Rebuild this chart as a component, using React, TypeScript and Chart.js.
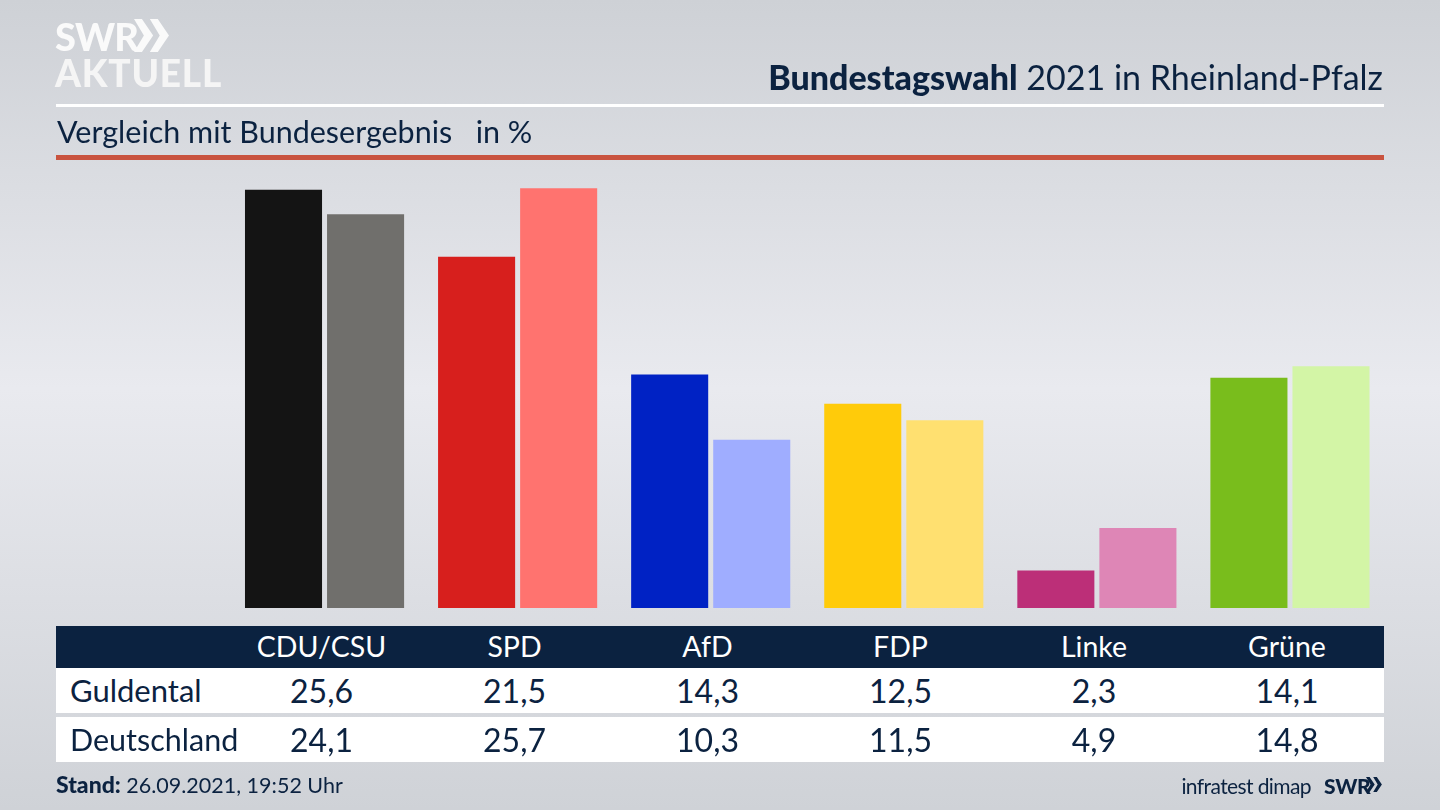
import React, { useEffect, useRef } from "react"
import Chart from "chart.js/auto"

const parties = ["CDU/CSU", "SPD", "AfD", "FDP", "Linke", "Grüne"]
const guldental = [25.6, 21.5, 14.3, 12.5, 2.3, 14.1]
const deutschland = [24.1, 25.7, 10.3, 11.5, 4.9, 14.8]
const strongColors = ["#141414", "#d71f1d", "#0022c4", "#ffcb0a", "#bc2f78", "#79bd1c"]
const paleColors = ["#706f6c", "#ff736f", "#9fadff", "#ffe070", "#de86b6", "#d3f5a6"]

const NAVY = "#0b2240"
const FONT = "Lato, sans-serif"
const columnCenters = [321.5, 514.5, 707.5, 900.5, 1094, 1287]

function fmt(v: number) {
  return v.toFixed(1).replace(".", ",")
}

function Text(props: {
  x: number
  y: number
  size: number
  color?: string
  weight?: number
  align?: "left" | "center" | "right"
  spacing?: number
  children: React.ReactNode
}) {
  const { x, y, size, color = NAVY, weight = 400, align = "left", spacing = 0 } = props
  const tx = align === "center" ? "-50%" : align === "right" ? "-100%" : "0"
  return (
    <div
      style={{
        position: "absolute",
        left: x,
        top: y,
        transform: `translate(${tx}, -50%)`,
        fontFamily: FONT,
        fontSize: size,
        fontWeight: weight,
        color,
        letterSpacing: spacing,
        lineHeight: 1,
        whiteSpace: "pre",
      }}
    >
      {props.children}
    </div>
  )
}

function Box(props: { x: number; y: number; w: number; h: number; color: string }) {
  return (
    <div
      style={{
        position: "absolute",
        left: props.x,
        top: props.y,
        width: props.w,
        height: props.h,
        background: props.color,
      }}
    />
  )
}

function Chevrons(props: { x: number; y: number; h: number; color: string }) {
  const { x, y, h, color } = props
  return (
    <svg
      style={{ position: "absolute", left: x, top: y }}
      width={h * 1.1}
      height={h}
      viewBox="0 0 110 100"
    >
      <polygon points="0,0 24,0 58,50 24,100 0,100 30,50" fill={color} />
      <polygon points="48,0 72,0 106,50 72,100 48,100 78,50" fill={color} />
    </svg>
  )
}

export default function App() {
  const ref = useRef<HTMLCanvasElement>(null)

  useEffect(() => {
    if (!ref.current) return
    const chart = new Chart(ref.current, {
      type: "bar",
      data: {
        labels: parties,
        datasets: [
          { label: "Guldental", data: guldental, backgroundColor: strongColors },
          { label: "Deutschland", data: deutschland, backgroundColor: paleColors },
        ],
      },
      options: {
        responsive: false,
        animation: false,
        layout: { padding: { left: 228, right: 53.5, top: 118, bottom: 202 } },
        datasets: { bar: { categoryPercentage: 0.85, barPercentage: 0.939 } },
        plugins: { legend: { display: false }, tooltip: { enabled: false } },
        scales: {
          x: { display: false },
          y: { display: false, min: 0, max: 30 },
        },
      },
    })
    return () => chart.destroy()
  }, [])

  return (
    <div
      style={{
        position: "fixed",
        left: 0,
        top: 0,
        width: 1440,
        height: 810,
        overflow: "hidden",
        background: "linear-gradient(180deg, #ced1d6 0%, #e9eaef 48%, #cfd2d7 100%)",
      }}
    >
      <canvas ref={ref} width={1440} height={810} style={{ position: "absolute", left: 0, top: 0 }} />

      <Text x={55} y={36} size={38} weight={900} color="#fafafa" spacing={-0.8}>SWR</Text>
      <Chevrons x={134} y={19} h={33} color="#fafafa" />
      <Text x={55} y={72} size={37} weight={900} color="#f5f5f5" spacing={0.8}>AKTUELL</Text>

      <div style={{ position: "absolute", right: 57, top: 77, transform: "translateY(-50%)", fontFamily: FONT, fontSize: 34, color: NAVY, lineHeight: 1, whiteSpace: "pre" }}>
        <span style={{ fontWeight: 900 }}>Bundestagswahl</span> 2021 in Rheinland-Pfalz
      </div>
      <Box x={56} y={104} w={1328} h={3} color="#ffffff" />
      <Text x={57} y={131} size={30.5}>{"Vergleich mit Bundesergebnis   in %"}</Text>
      <Box x={56} y={155} w={1328} h={5} color="#c9533f" />

      <Box x={56} y={626} w={1328} h={42} color={NAVY} />
      <Box x={56} y={668} w={1328} h={45} color="#ffffff" />
      <Box x={56} y={717} w={1328} h={45} color="#ffffff" />

      {parties.map((p, i) => (
        <Text key={p} x={columnCenters[i]} y={646} size={28.5} color="#ffffff" align="center">{p}</Text>
      ))}
      <Text x={70} y={690} size={31}>Guldental</Text>
      <Text x={70} y={739} size={30.5}>Deutschland</Text>
      {guldental.map((v, i) => (
        <Text key={i} x={columnCenters[i]} y={691} size={32} align="center">{fmt(v)}</Text>
      ))}
      {deutschland.map((v, i) => (
        <Text key={i} x={columnCenters[i]} y={740} size={32} align="center">{fmt(v)}</Text>
      ))}

      <div style={{ position: "absolute", left: 56, top: 785, transform: "translateY(-50%)", fontFamily: FONT, fontSize: 21.5, color: NAVY, lineHeight: 1, whiteSpace: "pre" }}>
        <span style={{ fontWeight: 900, fontSize: 23 }}>Stand:</span> 26.09.2021, 19:52 Uhr
      </div>
      <Text x={1311} y={785} size={21} align="right" spacing={-0.6}>infratest dimap</Text>
      <Text x={1324} y={785} size={21} weight={900} spacing={-0.3}>SWR</Text>
      <Chevrons x={1366} y={777} h={15} color={NAVY} />
    </div>
  )
}
